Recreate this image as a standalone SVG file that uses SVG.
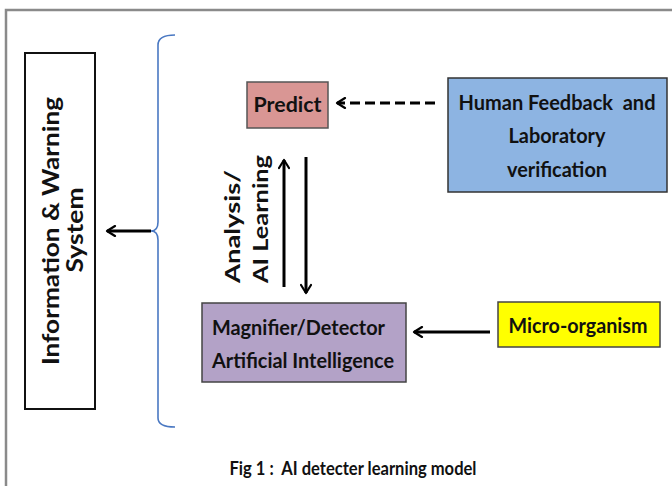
<svg xmlns="http://www.w3.org/2000/svg" width="672" height="486" viewBox="0 0 672 486">
<defs>
<marker id="ah" viewBox="0 0 12 12" refX="10" refY="6" markerWidth="4" markerHeight="4" markerUnits="strokeWidth" orient="auto">
<path d="M2,1 L10,6 L2,11" fill="none" stroke="#000" stroke-width="2.2" stroke-linecap="round" stroke-linejoin="round"/>
</marker>
</defs>
<style>
.t{font-family:Lato,"Open Sans","Liberation Sans",sans-serif;font-weight:bold;fill:#111;font-size:21px;white-space:pre}
.big{font-size:22px}
.a{stroke:#000;stroke-width:3;fill:none;marker-end:url(#ah)}
</style>
<rect width="672" height="486" fill="#fff"/>
<path d="M6,486 V10 H672" fill="none" stroke="#8a8a8a" stroke-width="2.5"/>

<g id="info">
<rect x="25" y="53" width="70" height="356" fill="#fff" stroke="#111" stroke-width="2"/>
<text class="t big" transform="translate(59,231) rotate(-90)" text-anchor="middle" textLength="268" lengthAdjust="spacingAndGlyphs">Information &amp; Warning</text>
<text class="t big" transform="translate(83,230) rotate(-90)" text-anchor="middle" textLength="85" lengthAdjust="spacingAndGlyphs">System</text>
</g>

<g id="brace">
<path d="M175,35 Q158,35 158,45 V222 Q158,231 151,231 Q158,231 158,240 V418 Q158,427 175,427" fill="none" stroke="#4a78c2" stroke-width="1.6"/>
</g>

<g id="predict">
<rect x="247" y="82" width="81" height="46" fill="#d99694" stroke="#555" stroke-width="1.5"/>
<text class="t" x="287.5" y="112" text-anchor="middle" textLength="68" lengthAdjust="spacingAndGlyphs">Predict</text>
</g>

<g id="human">
<rect x="448" y="78" width="219" height="114" fill="#8db4e2" stroke="#333" stroke-width="1.5"/>
<text class="t" x="557" y="110" text-anchor="middle" textLength="197" lengthAdjust="spacingAndGlyphs" xml:space="preserve">Human Feedback  and</text>
<text class="t" x="557" y="143" text-anchor="middle" textLength="97" lengthAdjust="spacingAndGlyphs">Laboratory</text>
<text class="t" x="557" y="177" text-anchor="middle" textLength="100" lengthAdjust="spacingAndGlyphs">verification</text>
</g>

<g id="magnifier">
<rect x="202" y="303" width="204" height="79" fill="#b3a2c7" stroke="#444" stroke-width="1.5"/>
<text class="t" x="212" y="335" textLength="173" lengthAdjust="spacingAndGlyphs">Magnifier/Detector</text>
<text class="t" x="212" y="368" textLength="182" lengthAdjust="spacingAndGlyphs">Artificial Intelligence</text>
</g>

<g id="micro">
<rect x="498" y="302" width="162" height="45" fill="#ffff00" stroke="#444" stroke-width="1.5"/>
<text class="t" x="578" y="333" text-anchor="middle" textLength="139" lengthAdjust="spacingAndGlyphs">Micro-organism</text>
</g>

<g id="label">
<text class="t" transform="translate(240,283) rotate(-90)" textLength="113" lengthAdjust="spacingAndGlyphs">Analysis/</text>
<text class="t" transform="translate(268,283) rotate(-90)" textLength="128" lengthAdjust="spacingAndGlyphs">AI Learning</text>
</g>

<g id="connectors">
<line class="a" x1="151" y1="231" x2="107" y2="231"/>
<line class="a" x1="435" y1="103" x2="337" y2="103" stroke-dasharray="10,5"/>
<line class="a" x1="284" y1="287" x2="284" y2="160"/>
<line class="a" x1="306" y1="157" x2="306" y2="293"/>
<line class="a" x1="490" y1="332" x2="414" y2="332"/>
</g>

<text class="t" x="353" y="475" text-anchor="middle" style="font-size:18px" textLength="247" lengthAdjust="spacingAndGlyphs" xml:space="preserve">Fig 1 :  AI detecter learning model</text>
</svg>
